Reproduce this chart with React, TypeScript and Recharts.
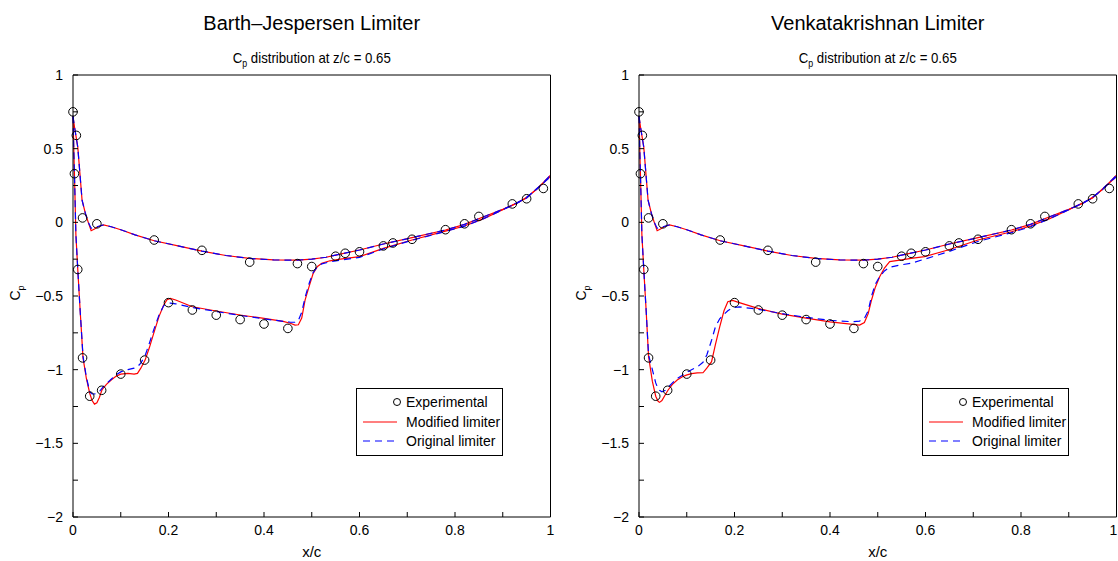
import React from 'react';
import { ComposedChart, Line, Scatter, XAxis, YAxis, Legend } from 'recharts';

// Experimental Cp at z/c = 0.65 (same points on both panels)
const expX = [0, 0.007, 0.003, 0.02, 0.05, 0.17, 0.27, 0.37, 0.47, 0.5, 0.55, 0.57, 0.6, 0.65, 0.67, 0.71, 0.78, 0.82, 0.85, 0.92, 0.95, 0.985,
  0.01, 0.02, 0.035, 0.06, 0.1, 0.15, 0.2, 0.25, 0.3, 0.35, 0.4, 0.45];
const expCp = [0.75, 0.59, 0.33, 0.03, -0.01, -0.12, -0.19, -0.27, -0.28, -0.3, -0.23, -0.21, -0.2, -0.16, -0.14, -0.115, -0.05, -0.01, 0.04, 0.125, 0.16, 0.23,
  -0.32, -0.92, -1.18, -1.14, -1.03, -0.935, -0.545, -0.595, -0.63, -0.66, -0.69, -0.72];

// upper branch (both limiters give almost the same curve)
const upperX = [0, 0.003, 0.01, 0.019, 0.026, 0.032, 0.038, 0.045, 0.052, 0.064, 0.08, 0.1, 0.13, 0.17, 0.22, 0.27, 0.32, 0.37, 0.42, 0.47,
  0.5, 0.53, 0.55, 0.6, 0.65, 0.71, 0.78, 0.82, 0.86, 0.9, 0.93, 0.95, 0.97, 1];
const upperCpModified = [0.72, 0.65, 0.51, 0.15, 0.06, 0.0, -0.057, -0.045, -0.03, -0.018, -0.03, -0.05, -0.085, -0.125, -0.16, -0.195, -0.225, -0.245, -0.255, -0.257,
  -0.25, -0.237, -0.222, -0.188, -0.147, -0.104, -0.052, -0.014, 0.038, 0.088, 0.13, 0.17, 0.22, 0.32];
const upperCpOriginal = [0.72, 0.65, 0.51, 0.15, 0.06, 0.0, -0.04, -0.038, -0.028, -0.018, -0.03, -0.05, -0.085, -0.125, -0.16, -0.195, -0.225, -0.245, -0.255, -0.257,
  -0.25, -0.237, -0.222, -0.188, -0.147, -0.104, -0.052, -0.014, 0.038, 0.088, 0.13, 0.17, 0.22, 0.32];

// lower branch, Barth-Jespersen
const bjLowerX = [0, 0.002, 0.004, 0.006, 0.008, 0.01, 0.015, 0.021, 0.028, 0.035, 0.04, 0.045, 0.05, 0.055, 0.061, 0.07, 0.08, 0.09, 0.1, 0.115,
  0.128, 0.135, 0.142, 0.151, 0.16, 0.169, 0.18, 0.19, 0.197, 0.204, 0.215, 0.25, 0.3, 0.35, 0.4, 0.44, 0.455, 0.465, 0.472, 0.479,
  0.486, 0.495, 0.503, 0.512, 0.521, 0.538, 0.56, 0.6, 0.65, 0.71, 0.78, 0.82, 0.86, 0.9, 0.95, 0.97, 1];
const bjLowerCpModified = [0.72, 0.45, 0.2, -0.08, -0.2, -0.32, -0.6, -0.92, -1.06, -1.16, -1.21, -1.234, -1.225, -1.19, -1.135, -1.1, -1.07, -1.045, -1.03, -1.025,
  -1.03, -1.025, -0.99, -0.935, -0.85, -0.754, -0.64, -0.561, -0.525, -0.516, -0.527, -0.573, -0.602, -0.629, -0.652, -0.672, -0.685, -0.697, -0.695, -0.65,
  -0.528, -0.43, -0.346, -0.3, -0.278, -0.261, -0.25, -0.233, -0.177, -0.12, -0.06, -0.025, 0.025, 0.085, 0.165, 0.225, 0.31];
const bjLowerCpOriginal = [0.72, 0.45, 0.2, -0.08, -0.2, -0.32, -0.6, -0.91, -1.05, -1.15, -1.165, -1.165, -1.16, -1.15, -1.125, -1.095, -1.065, -1.035, -1.015, -1.0,
  -0.99, -0.98, -0.955, -0.905, -0.82, -0.73, -0.63, -0.565, -0.55, -0.548, -0.553, -0.578, -0.605, -0.632, -0.655, -0.672, -0.678, -0.678, -0.665, -0.61,
  -0.51, -0.41, -0.34, -0.3, -0.282, -0.268, -0.257, -0.238, -0.18, -0.122, -0.062, -0.026, 0.025, 0.085, 0.165, 0.225, 0.31];

// lower branch, Venkatakrishnan
const vkLowerX = [0, 0.002, 0.004, 0.006, 0.008, 0.01, 0.015, 0.02, 0.028, 0.035, 0.04, 0.043, 0.048, 0.055, 0.061, 0.07, 0.08, 0.09, 0.099, 0.11,
  0.122, 0.134, 0.142, 0.152, 0.16, 0.169, 0.178, 0.186, 0.196, 0.21, 0.249, 0.3, 0.35, 0.4, 0.448, 0.462, 0.472, 0.48, 0.487, 0.495,
  0.504, 0.514, 0.525, 0.546, 0.57, 0.598, 0.647, 0.71, 0.78, 0.82, 0.86, 0.9, 0.95, 0.97, 1];
const vkLowerCpModified = [0.72, 0.45, 0.2, -0.08, -0.2, -0.32, -0.6, -0.91, -1.08, -1.18, -1.215, -1.222, -1.21, -1.17, -1.138, -1.1, -1.07, -1.05, -1.037, -1.027,
  -1.022, -1.021, -0.99, -0.946, -0.83, -0.709, -0.6, -0.539, -0.53, -0.545, -0.584, -0.623, -0.65, -0.675, -0.692, -0.697, -0.68, -0.62, -0.527, -0.44,
  -0.369, -0.31, -0.267, -0.256, -0.245, -0.233, -0.188, -0.12, -0.064, -0.025, 0.025, 0.085, 0.165, 0.225, 0.31];
const vkLowerCpOriginal = [0.72, 0.45, 0.2, -0.08, -0.2, -0.32, -0.6, -0.9, -1.0, -1.09, -1.13, -1.14, -1.15, -1.14, -1.12, -1.09, -1.06, -1.04, -1.02, -1.0,
  -0.982, -0.95, -0.9, -0.8, -0.71, -0.655, -0.625, -0.6, -0.58, -0.574, -0.59, -0.62, -0.645, -0.665, -0.675, -0.67, -0.652, -0.6, -0.5, -0.42,
  -0.368, -0.33, -0.305, -0.29, -0.278, -0.25, -0.2, -0.13, -0.07, -0.03, 0.025, 0.085, 0.165, 0.225, 0.31];

const xTicks = [0, 0.1, 0.2, 0.3, 0.4, 0.5, 0.6, 0.7, 0.8, 0.9, 1];
const yTicks = [-2, -1.75, -1.5, -1.25, -1, -0.75, -0.5, -0.25, 0, 0.25, 0.5, 0.75, 1];

const FONT = '"Liberation Sans", Arial, Helvetica, sans-serif';

const toPoints = (xs: number[], cps: number[]) => xs.map((x, i) => ({ x, cp: cps[i] }));
const fmt = (v: number) => String(v).replace('-', '\u2212');
const isStep = (v: number, step: number) => Math.abs(v / step - Math.round(v / step)) < 1e-6;

// ticks point into the plot; labels only on the major ones
const BottomTick = (props: any) => {
  const { x, y, payload, lastShift = 0 } = props;
  const v = payload.value;
  return (
    <g>
      <line x1={x} y1={y} x2={x} y2={y - 5} stroke="#000" />
      {isStep(v, 0.2) && (
        <text x={x + (v === 1 ? lastShift : 0)} y={y + 18} textAnchor="middle" fontSize={14} fontFamily={FONT} fill="#000">{fmt(v)}</text>
      )}
    </g>
  );
};

const TopTick = (props: any) => {
  const { x, y } = props;
  return <line x1={x} y1={y} x2={x} y2={y + 5} stroke="#000" />;
};

const LeftTick = (props: any) => {
  const { x, y, payload } = props;
  const v = payload.value;
  return (
    <g>
      <line x1={x} y1={y} x2={x + 5} y2={y} stroke="#000" />
      {isStep(v, 0.5) && (
        <text x={x - 10} y={y + 5} textAnchor="end" fontSize={14} fontFamily={FONT} fill="#000">{fmt(v)}</text>
      )}
    </g>
  );
};

const RightTick = (props: any) => {
  const { x, y } = props;
  return <line x1={x} y1={y} x2={x - 5} y2={y} stroke="#000" />;
};

const LegendBox = () => (
  <div style={{ width: 147, height: 68, border: '1px solid #000', boxSizing: 'border-box', background: '#fff' }}>
    <svg width={145} height={66} style={{ display: 'block' }}>
      <circle cx={40} cy={13} r={3.5} fill="none" stroke="#000" />
      <text x={49} y={18} fontSize={14} fontFamily={FONT}>Experimental</text>
      <line x1={6} y1={33} x2={40} y2={33} stroke="#ff0000" strokeWidth={1.2} />
      <text x={49} y={38} fontSize={14} fontFamily={FONT}>Modified limiter</text>
      <line x1={6} y1={52} x2={40} y2={52} stroke="#0000ff" strokeWidth={1.2} strokeDasharray="7 5" />
      <text x={49} y={57} fontSize={14} fontFamily={FONT}>Original limiter</text>
    </svg>
  </div>
);

interface PanelProps {
  left: number;
  lastShift: number;
  lowerX: number[];
  lowerModified: number[];
  lowerOriginal: number[];
}

function Panel({ left, lastShift, lowerX, lowerModified, lowerOriginal }: PanelProps) {
  const exp = toPoints(expX, expCp);
  const upMod = toPoints(upperX, upperCpModified);
  const upOrig = toPoints(upperX, upperCpOriginal);
  const lowMod = toPoints(lowerX, lowerModified);
  const lowOrig = toPoints(lowerX, lowerOriginal);

  return (
    <div style={{ position: 'absolute', left, top: 0, width: 560, height: 561 }}>
      <ComposedChart width={560} height={561} margin={{ top: 74, right: 8.5, bottom: 14, left: 33 }}>
        <XAxis dataKey="x" type="number" domain={[0, 1]} ticks={xTicks} interval={0} height={30}
          tickLine={false} tickSize={0} tickMargin={0} axisLine={{ stroke: '#000' }} tick={<BottomTick lastShift={lastShift} />} />
        <XAxis xAxisId="top" orientation="top" dataKey="x" type="number" domain={[0, 1]} ticks={xTicks} interval={0} height={1}
          tickLine={false} tickSize={0} tickMargin={0} axisLine={{ stroke: '#000' }} tick={<TopTick />} />
        <YAxis type="number" domain={[-2, 1]} ticks={yTicks} interval={0} width={40}
          tickLine={false} tickSize={0} tickMargin={0} axisLine={{ stroke: '#000' }} tick={<LeftTick />} />
        <YAxis yAxisId="right" orientation="right" type="number" domain={[-2, 1]} ticks={yTicks} interval={0} width={1}
          tickLine={false} tickSize={0} tickMargin={0} axisLine={{ stroke: '#000' }} tick={<RightTick />} />

        <Line data={upMod} dataKey="cp" type="linear" stroke="#ff0000" strokeWidth={1.2} dot={false} activeDot={false} isAnimationActive={false} />
        <Line data={lowMod} dataKey="cp" type="linear" stroke="#ff0000" strokeWidth={1.2} dot={false} activeDot={false} isAnimationActive={false} />
        <Line data={upOrig} dataKey="cp" type="linear" stroke="#0000ff" strokeWidth={1.2} strokeDasharray="7 5" dot={false} activeDot={false} isAnimationActive={false} />
        <Line data={lowOrig} dataKey="cp" type="linear" stroke="#0000ff" strokeWidth={1.2} strokeDasharray="7 5" dot={false} activeDot={false} isAnimationActive={false} />
        <Scatter data={exp} dataKey="cp" isAnimationActive={false}
          shape={(p: any) => <circle cx={p.cx} cy={p.cy} r={4.3} fill="none" stroke="#000" strokeWidth={1} />} />

        <Legend layout="vertical" align="center" verticalAlign="middle" content={() => <LegendBox />}
          wrapperStyle={{ left: 356, top: 388, width: 147, height: 68 }} />
      </ComposedChart>
    </div>
  );
}

export default function App() {
  const centers = [311.75, 877.75];
  const titles = ['Barth\u2013Jespersen Limiter', 'Venkatakrishnan Limiter'];
  return (
    <div style={{ position: 'absolute', left: 0, top: 0, width: 1118, height: 561, overflow: 'hidden', background: '#fff' }}>
      <Panel left={0} lastShift={0} lowerX={bjLowerX} lowerModified={bjLowerCpModified} lowerOriginal={bjLowerCpOriginal} />
      <Panel left={566} lastShift={-3} lowerX={vkLowerX} lowerModified={vkLowerCpModified} lowerOriginal={vkLowerCpOriginal} />
      <svg width={1118} height={561} style={{ position: 'absolute', left: 0, top: 0, pointerEvents: 'none' }} fontFamily={FONT}>
        {centers.map((cx, i) => (
          <g key={i}>
            <text x={cx} y={30} textAnchor="middle" fontSize={20}>{titles[i]}</text>
            <text x={cx} y={63} textAnchor="middle" fontSize={15} textLength={158} lengthAdjust="spacingAndGlyphs">
              C<tspan dy={4} fontSize={10}>p</tspan><tspan dy={-4}> distribution at z/c = 0.65</tspan>
            </text>
            <text x={cx} y={557} textAnchor="middle" fontSize={15}>x/c</text>
            <text transform={`translate(${cx - 291.75}, 293) rotate(-90)`} textAnchor="middle" fontSize={14}>
              C<tspan dy={4} fontSize={9}>p</tspan>
            </text>
          </g>
        ))}
      </svg>
    </div>
  );
}
